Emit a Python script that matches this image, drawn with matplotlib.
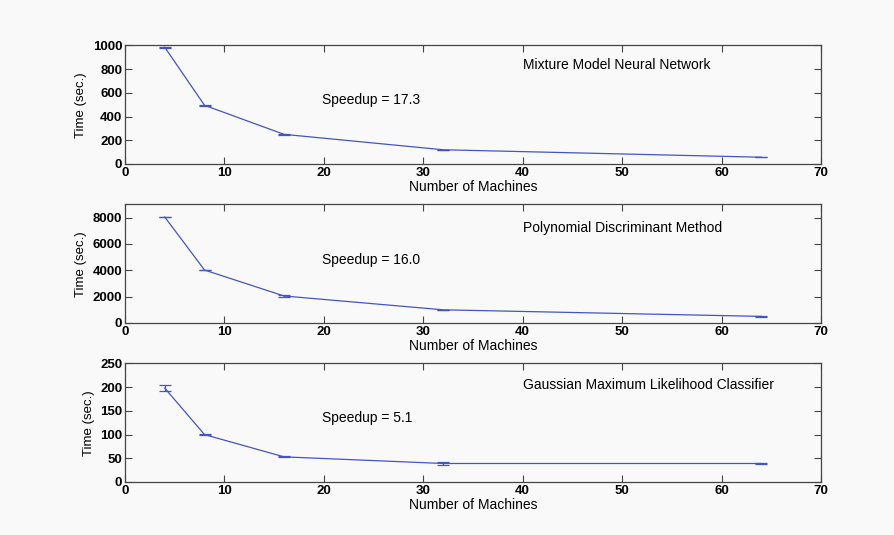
import numpy as np
import matplotlib
matplotlib.use('Agg')
import matplotlib.pyplot as plt

# number of machines
machines = [4, 8, 16, 32, 64]

# timings (sec.) and error bar half-widths
t_mmnn = [985, 495, 250, 120, 57]
e_mmnn = [3, 6, 3, 2, 2]
t_pdm = [8050, 4020, 2050, 1000, 500]
e_pdm = [20, 30, 40, 20, 10]
t_gml = [198, 100, 53, 39, 39]
e_gml = [6, 1, 1, 3, 2]

titles = ['Mixture Model Neural Network', 'Polynomial Discriminant Method',
          'Gaussian Maximum Likelihood Classifier']
speedups = ['Speedup = 17.3', 'Speedup = 16.0', 'Speedup = 5.1']
ylims = [1000, 9000, 250]
yticks = [np.arange(0, 1001, 200), np.arange(0, 8001, 2000), np.arange(0, 251, 50)]
title_pos = [(40, 832), (40, 7250), (40, 205)]
speed_pos = [(19.8, 538), (19.8, 4790), (19.8, 136)]
series = [(t_mmnn, e_mmnn), (t_pdm, e_pdm), (t_gml, e_gml)]

plt.rcParams['font.family'] = ['Liberation Sans', 'DejaVu Sans']
bg = '#f9f9f9'
line_col = '#4455c0'

fig = plt.figure(figsize=(8.94, 5.35), dpi=100, facecolor=bg)
bottoms = [0.6935, 0.3963, 0.0991]

for k in range(3):
    ax = fig.add_axes([0.1398, bottoms[k], 0.7785, 0.2215], facecolor=bg)
    y, e = series[k]
    ax.errorbar(machines, y, yerr=e, color=line_col, lw=0.9, capsize=4, capthick=0.9, elinewidth=0.9)
    ax.set_xlim(0, 70)
    ax.set_ylim(0, ylims[k])
    ax.set_xticks(np.arange(0, 71, 10))
    ax.set_yticks(yticks[k])
    ax.tick_params(direction='in', top=True, right=True, length=5, width=0.8,
                   color='#444444', labelsize=9.5, pad=2)
    for lab in ax.get_xticklabels() + ax.get_yticklabels():
        lab.set_fontweight('bold')
    for s in ax.spines.values():
        s.set_color('#444444')
        s.set_linewidth(0.9)
    ax.set_xlabel('Number of Machines', fontsize=10, labelpad=1)
    ax.set_ylabel('Time (sec.)', fontsize=9.5, labelpad=4)
    ax.text(title_pos[k][0], title_pos[k][1], titles[k], fontsize=10, va='center')
    ax.text(speed_pos[k][0], speed_pos[k][1], speedups[k], fontsize=10, va='center')

fig.savefig('out.png', dpi=100, facecolor=bg)
